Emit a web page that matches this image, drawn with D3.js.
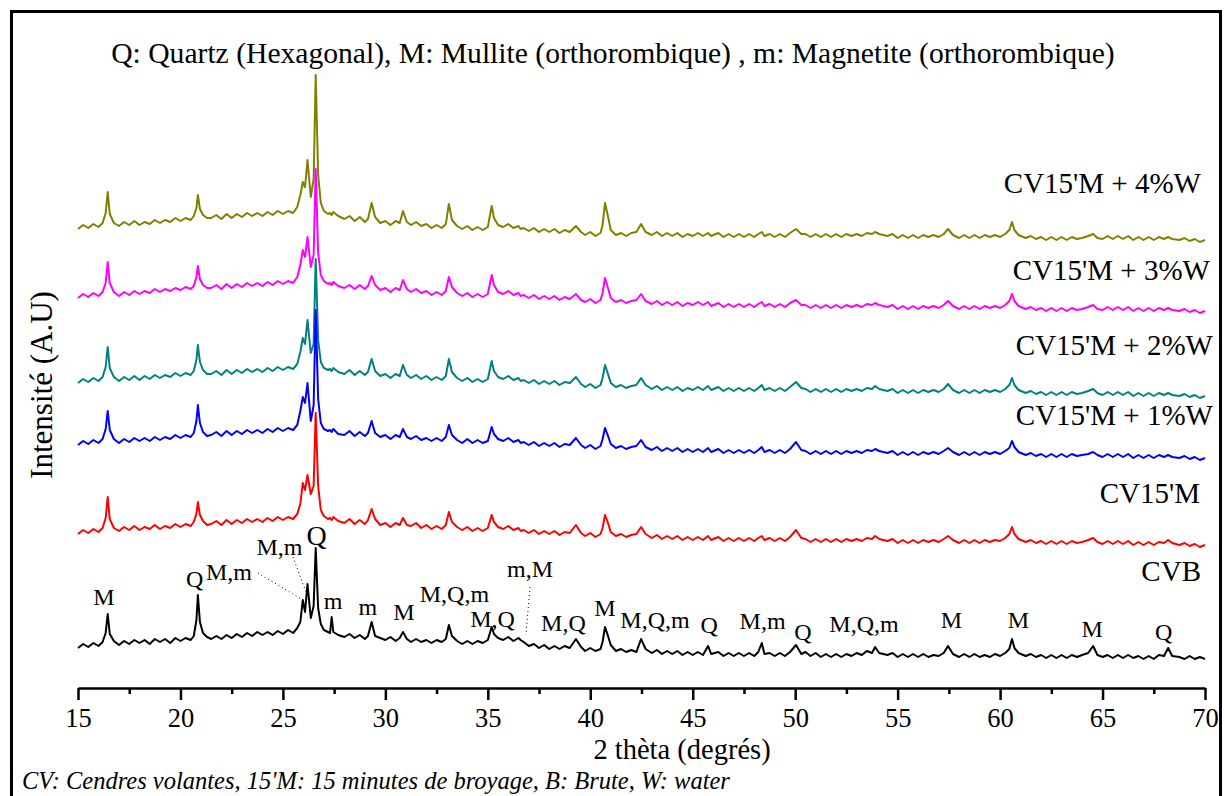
<!DOCTYPE html>
<html>
<head>
<meta charset="utf-8">
<script src="https://cdn.jsdelivr.net/npm/d3@7"></script>
<style>
  html, body { margin: 0; padding: 0; background: #fff; }
  svg { display: block; }
  text { font-family: "Liberation Serif", "Times New Roman", serif; fill: #000; }
</style>
</head>
<body>
<svg id="chart" width="1225" height="796"></svg>
<script>
// ---------------- DATA ----------------
// 2θ sampling positions (degrees), shared by all patterns
const theta = [
  15,15.25,15.5,15.75,16,16.2,16.35,16.45,16.55,16.75,
  17,17.25,17.5,17.75,18,18.25,18.5,18.75,19,19.25,19.5,19.75,20,20.25,20.5,
  20.65,20.78,20.85,20.95,21.1,21.3,
  21.5,21.75,22,22.25,22.5,22.75,23,23.25,23.5,23.75,24,24.25,24.5,24.75,25,25.25,25.5,
  25.7,25.85,25.97,26.08,26.2,26.36,26.5,26.6,26.72,26.85,27,27.2,27.3,27.38,27.46,27.7,
  28,28.25,28.5,28.75,29,29.15,29.33,29.5,29.75,
  30,30.25,30.5,30.7,30.86,31.05,31.25,31.5,31.75,
  32,32.25,32.5,32.75,32.95,33.1,33.25,33.5,33.75,34,34.25,34.5,34.75,
  35,35.19,35.3,35.5,35.75,36,36.25,36.5,36.6,36.75,
  37,37.25,37.5,37.75,38,38.25,38.5,38.75,39,39.3,39.55,39.75,
  40,40.25,40.5,40.6,40.72,40.85,41,41.25,41.5,41.75,
  42,42.25,42.48,42.7,43,43.25,43.5,43.75,44,44.25,44.5,44.75,
  45,45.25,45.5,45.75,45.9,46.25,46.5,46.75,47,47.25,47.5,47.75,
  48,48.2,48.37,48.5,48.75,49,49.25,49.5,49.75,
  50.04,50.3,50.5,50.75,51,51.25,51.5,51.75,52,52.25,52.5,52.75,
  53,53.25,53.5,53.75,53.9,54.1,54.5,54.75,
  55,55.25,55.5,55.75,56,56.25,56.5,56.75,57,57.25,57.46,57.7,
  58,58.25,58.5,58.75,59,59.25,59.5,59.75,
  60,60.25,60.45,60.58,60.7,60.9,61.25,61.5,61.75,
  62,62.25,62.5,62.75,63,63.25,63.5,63.75,64,64.3,64.54,64.75,
  65,65.25,65.5,65.75,66,66.25,66.5,66.75,67,67.25,67.5,67.75,
  68,68.2,68.4,68.75,69,69.25,69.5,69.75,70
];

// Intensities (A.U.), one value per theta
const cvb = [
  38,42,39,43,40,44,53,72,52,45,
  41,45,42,46,43,46,42,47,44,47,43,48,45,48,46,
  50,66,91,64,53,49,
  47,50,47,51,48,52,49,53,50,54,51,54,51,55,52,56,53,
  58,64,86,74,102,68,80,138,78,62,56,54,53,69,54,51,
  49,52,48,51,47,50,64,50,48,
  46,49,45,48,54,47,44,47,44,
  46,43,46,44,47,61,50,45,42,45,42,45,43,
  46,59,52,48,46,49,45,48,46,44,
  40,42,38,41,37,40,37,40,38,47,39,35,
  38,35,37,44,59,51,41,35,37,34,
  36,34,47,37,33,36,32,35,32,35,31,34,
  31,34,31,40,32,34,30,33,30,33,30,33,
  30,34,43,32,33,30,33,30,34,
  41,32,34,30,33,29,32,29,32,29,32,30,
  33,31,35,33,39,33,31,33,
  29,32,29,32,29,32,29,31,30,33,40,32,
  29,32,29,32,29,31,29,32,
  30,33,37,47,38,33,30,32,29,
  31,28,31,28,31,28,31,29,31,33,40,31,
  29,31,28,31,28,31,28,30,27,30,27,31,
  30,38,30,29,27,30,27,29,27
];
const cv15m = [
  42,46,43,47,44,48,58,79,57,48,
  45,49,46,50,46,49,47,51,47,50,48,52,49,52,50,
  54,62,74,61,55,51,
  52,55,51,56,52,56,53,57,54,57,54,58,55,59,56,59,57,
  62,72,93,86,101,82,90,163,90,66,60,57,58,56,59,55,
  53,57,52,56,52,56,67,57,51,
  53,49,53,51,58,51,50,53,48,
  51,47,50,47,51,64,54,49,46,49,45,48,45,
  48,61,54,49,47,50,46,48,45,46,
  43,46,42,45,42,45,41,44,43,51,43,40,
  43,39,42,48,61,54,44,40,42,39,
  41,42,49,42,38,41,37,40,37,40,36,39,
  36,39,36,40,36,39,35,38,35,38,35,38,
  35,38,40,36,38,35,38,35,39,
  46,38,37,34,37,34,37,34,37,34,37,35,
  37,35,38,37,40,37,35,37,
  33,36,33,36,33,36,34,36,34,37,40,36,
  33,36,33,36,33,36,34,36,
  35,38,42,49,42,37,34,36,33,
  35,32,35,32,35,32,35,33,34,36,38,34,
  32,35,32,35,32,35,31,34,31,34,31,34,
  33,36,33,31,33,30,32,29,31
];
const cv15m1w = [
  46,50,47,51,48,52,62,80,61,52,
  48,52,49,53,50,53,50,54,51,54,52,56,53,56,54,
  58,70,86,68,59,55,
  56,59,55,60,56,60,57,61,58,61,58,62,59,63,60,63,61,
  66,80,94,88,108,70,86,181,92,68,62,60,61,59,62,57,
  56,60,55,59,55,58,70,58,54,
  56,52,56,54,62,54,52,55,51,
  53,50,53,50,54,66,56,51,48,52,48,51,48,
  50,64,57,52,50,53,49,51,48,49,
  46,49,45,48,45,48,44,47,46,53,46,43,
  46,42,45,52,63,56,47,43,45,42,
  44,45,51,44,41,44,40,43,40,43,39,42,
  39,42,39,43,39,42,38,41,38,41,38,41,
  38,41,44,39,41,38,41,38,42,
  49,41,40,37,40,37,40,37,40,37,40,38,
  40,38,41,40,42,40,38,40,
  36,39,36,39,36,39,37,39,37,40,43,39,
  36,39,36,39,36,39,37,39,
  37,40,43,50,44,39,36,38,35,
  37,34,37,34,37,34,37,35,36,37,39,36,
  34,37,34,37,34,37,33,36,33,36,33,36,
  34,36,34,33,35,32,34,31,33
];
const cv15m2w = [
  45,49,46,50,47,51,61,81,60,51,
  47,51,48,52,48,52,49,53,50,53,51,55,52,55,53,
  57,68,83,66,58,54,
  54,57,53,58,54,58,55,59,56,59,56,60,57,61,58,61,59,
  64,76,90,84,108,75,84,169,88,66,60,58,59,57,60,56,
  54,58,53,57,53,56,69,57,52,
  54,50,54,52,63,53,50,53,49,
  52,48,51,48,52,69,56,50,47,50,46,49,46,
  49,67,57,51,49,52,48,50,47,48,
  45,48,44,47,44,47,43,46,45,51,44,41,
  44,40,43,50,63,55,45,41,43,40,
  42,43,50,43,39,42,38,41,38,41,37,40,
  38,41,38,42,38,41,37,40,37,40,37,40,
  37,40,43,38,40,37,40,37,41,
  46,40,39,36,39,36,39,36,39,36,39,37,
  39,37,40,39,42,39,37,39,
  35,38,35,38,35,38,36,38,36,39,44,38,
  35,38,35,38,35,38,36,38,
  36,39,43,50,43,38,35,37,34,
  36,33,36,33,36,33,36,34,35,37,39,35,
  33,36,33,36,33,36,32,35,32,35,32,35,
  33,35,33,32,34,31,33,30,32
];
const cv15m3w = [
  45,49,46,50,47,51,60,81,60,51,
  47,51,48,52,49,52,50,54,51,54,52,55,53,56,54,
  57,66,77,64,58,55,
  55,58,54,59,55,59,56,60,57,60,57,61,58,62,59,62,60,
  66,78,93,86,106,76,88,174,90,68,62,59,60,58,61,57,
  55,58,54,58,54,57,67,58,53,
  55,51,55,53,63,54,51,54,50,
  52,48,51,48,52,66,56,50,47,50,46,49,46,
  49,68,58,51,49,52,48,50,47,48,
  45,48,44,47,44,47,43,46,44,49,43,41,
  44,40,43,50,65,56,45,41,43,40,
  42,43,49,42,39,42,38,41,38,41,37,40,
  38,41,38,41,37,40,36,39,36,39,36,39,
  36,39,41,37,39,36,39,36,40,
  43,38,38,35,38,35,38,35,38,35,38,36,
  38,36,39,38,40,38,36,38,
  34,37,34,37,34,37,35,37,35,38,42,37,
  34,37,34,37,34,37,35,37,
  35,38,42,49,42,37,34,36,33,
  35,32,35,32,35,32,35,33,34,36,38,34,
  33,36,33,36,33,36,32,35,32,35,32,35,
  33,35,33,32,34,31,33,30,32
];
const cv15m4w = [
  42,46,43,47,44,48,58,79,57,48,
  45,49,46,50,46,49,47,51,48,51,49,53,50,53,51,
  55,63,76,62,56,53,
  53,56,52,57,53,57,54,58,55,58,55,59,56,60,57,60,58,
  64,76,89,84,111,74,92,196,96,68,60,57,58,56,59,55,
  52,55,50,54,49,52,68,54,48,
  50,46,50,48,60,49,46,49,45,
  47,43,46,43,47,67,51,45,42,45,41,44,41,
  44,65,53,46,44,47,43,45,42,43,
  40,43,39,42,39,42,38,41,39,45,39,36,
  39,35,38,46,68,56,41,36,38,35,
  38,39,47,39,36,39,35,38,35,38,34,37,
  35,38,35,38,35,38,34,37,34,37,34,37,
  34,37,39,35,37,34,37,34,38,
  42,37,37,34,37,34,37,34,37,34,37,35,
  37,35,38,37,39,37,35,37,
  33,36,33,36,33,36,34,36,34,37,42,36,
  33,36,33,36,33,36,34,36,
  34,37,41,49,41,36,33,35,32,
  34,31,34,31,34,31,34,32,33,35,37,33,
  32,35,32,35,32,35,31,34,31,34,31,34,
  32,34,32,31,33,30,32,29,31
];

const seriesNames   = ["CVB", "CV15'M", "CV15'M + 1%W", "CV15'M + 2%W", "CV15'M + 3%W", "CV15'M + 4%W"];
const seriesValues  = [cvb, cv15m, cv15m1w, cv15m2w, cv15m3w, cv15m4w];
const seriesOffsets = [0, 110, 195, 258, 343, 415];   // vertical stacking shift (A.U.)

const xTicks      = [15, 20, 25, 30, 35, 40, 45, 50, 55, 60, 65, 70];
const xMinorTicks = [17.5, 22.5, 27.5, 32.5, 37.5, 42.5, 47.5, 52.5, 57.5, 62.5, 67.5];

// Phase annotations on the CVB pattern: text, 2θ centre, level (A.U.)
const peakLabels = [
  ["M", 16.27, 81], ["Q", 20.69, 99], ["M,m", 22.37, 106], ["M,m", 24.83, 131],
  ["m", 27.45, 77], ["m", 29.15, 71], ["M", 30.91, 66], ["M,Q,m", 33.37, 84],
  ["M,Q", 35.23, 59], ["m,M", 37.06, 109], ["M,Q", 38.69, 55], ["M", 40.72, 70],
  ["M,Q,m", 43.16, 58], ["Q", 45.80, 53], ["M,m", 48.41, 57], ["Q", 50.38, 46],
  ["M,Q,m", 53.36, 54], ["M", 57.63, 58], ["M", 60.90, 58], ["M", 64.49, 49], ["Q", 67.98, 46]
];
const mainPeakLabel = ["Q", 26.64, 141];
// dotted leader lines: [θ1, level1, θ2, level2]
const leaders = [
  [23.78, 113, 25.98, 86],
  [25.49, 129, 26.18, 91],
  [37.06, 99, 36.86, 51]
];

const titleText  = "Q: Quartz (Hexagonal), M: Mullite (orthorombique) , m: Magnetite (orthorombique)";
const xTitle     = "2 thèta (degrés)";
const yTitle     = "Intensité (A.U)";
const footerText = "CV: Cendres volantes, 15'M: 15 minutes de broyage, B: Brute, W: water";

// ---------------- LAYOUT / STYLE ----------------
const colors = ["#000000", "#ff0000", "#0000ff", "#008080", "#ff00ff", "#808000"];
const seriesLabelPos = [[1201, 581], [1200, 503], [1213, 425], [1213, 355], [1210, 280], [1201, 193]];

const svg = d3.select("#chart");
svg.append("rect").attr("x", 0).attr("y", 0).attr("width", 1225).attr("height", 796).attr("fill", "#fff");
svg.append("rect").attr("x", 11.5).attr("y", 11.5).attr("width", 1209).attr("height", 820)
  .attr("fill", "none").attr("stroke", "#000").attr("stroke-width", 3);

const x = d3.scaleLinear().domain([15, 70]).range([78, 1205]);
const y = d3.scaleLinear().domain([0, 640]).range([686, 46]);

// Title
svg.append("text").attr("x", 613).attr("y", 63).attr("text-anchor", "middle")
  .style("font-size", "29.6px").text(titleText);

// Patterns: draw from top (olive) down to bottom (black)
const order = [5, 4, 3, 2, 1, 0];
order.forEach(k => {
  const vals = seriesValues[k];
  if (vals.length !== theta.length) console.error("length mismatch", seriesNames[k], vals.length, theta.length);
  const line = d3.line()
    .x((d, i) => x(theta[i]))
    .y(d => y(d + seriesOffsets[k]));
  svg.append("path").datum(vals)
    .attr("d", line)
    .attr("fill", "none")
    .attr("stroke", colors[k])
    .attr("stroke-width", 2)
    .attr("stroke-linejoin", "round");
});

// Series labels
seriesNames.forEach((n, k) => {
  svg.append("text").attr("x", seriesLabelPos[k][0]).attr("y", seriesLabelPos[k][1])
    .attr("text-anchor", "end").style("font-size", "29px").text(n);
});

// Peak annotations
svg.append("g").selectAll("text").data(peakLabels).join("text")
  .attr("x", d => x(d[1])).attr("y", d => y(d[2]))
  .attr("text-anchor", "middle").style("font-size", "24px").text(d => d[0]);
svg.append("text").attr("x", x(mainPeakLabel[1])).attr("y", y(mainPeakLabel[2]))
  .attr("text-anchor", "middle").style("font-size", "28px").text(mainPeakLabel[0]);
svg.append("g").selectAll("line").data(leaders).join("line")
  .attr("x1", d => x(d[0])).attr("y1", d => y(d[1]))
  .attr("x2", d => x(d[2])).attr("y2", d => y(d[3]))
  .attr("stroke", "#000").attr("stroke-width", 1).attr("stroke-dasharray", "1,3");

// X axis
const axisY = 688;
const gx = svg.append("g").attr("transform", `translate(0,${axisY})`)
  .call(d3.axisBottom(x).tickValues(xTicks).tickFormat(d3.format("d"))
    .tickSize(12).tickSizeOuter(0).tickPadding(8));
gx.select(".domain").attr("stroke-width", 2.5);
gx.selectAll(".tick line").attr("stroke-width", 2.5);
gx.selectAll(".tick text").style("font-size", "26.5px").style("font-family", "'Liberation Serif', serif");
const gm = svg.append("g").attr("transform", `translate(0,${axisY})`)
  .call(d3.axisBottom(x).tickValues(xMinorTicks).tickFormat("").tickSize(6).tickSizeOuter(0));
gm.select(".domain").remove();
gm.selectAll(".tick line").attr("stroke-width", 2.5);

svg.append("text").attr("x", 682).attr("y", 759).attr("text-anchor", "middle")
  .style("font-size", "28.5px").text(xTitle);

svg.append("text").attr("transform", "translate(52,385) rotate(-90)")
  .attr("text-anchor", "middle").style("font-size", "31px").text(yTitle);

svg.append("text").attr("x", 22).attr("y", 789)
  .style("font-size", "24.5px").style("font-style", "italic").text(footerText);
</script>
</body>
</html>
